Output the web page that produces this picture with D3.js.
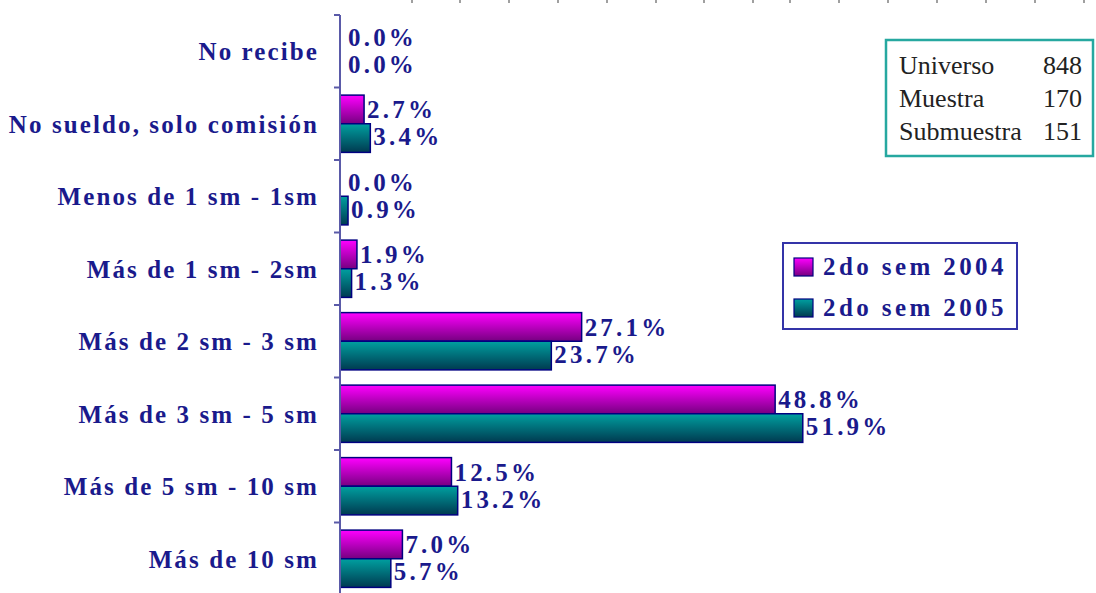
<!DOCTYPE html>
<html>
<head>
<meta charset="utf-8">
<script src="https://cdn.jsdelivr.net/npm/d3@7"></script>
<style>
  html, body { margin: 0; padding: 0; background: #fff; }
  svg { display: block; font-family: "Liberation Serif", "Times New Roman", serif; }
  text { font-family: "Liberation Serif", "Times New Roman", serif; }
</style>
</head>
<body>
<svg id="chart" width="1096" height="593"></svg>
<script>
// Ingreso mensual, en salarios mínimos (sm)
const categories = [
  "No recibe",
  "No sueldo, solo comisión",
  "Menos de 1 sm - 1sm",
  "Más de 1 sm - 2sm",
  "Más de 2 sm - 3 sm",
  "Más de 3 sm - 5 sm",
  "Más de 5 sm - 10 sm",
  "Más de 10 sm"
];
const seriesNames = ["2do sem 2004", "2do sem 2005"];
const values2004 = [0.0, 2.7, 0.0, 1.9, 27.1, 48.8, 12.5, 7.0];
const values2005 = [0.0, 3.4, 0.9, 1.3, 23.7, 51.9, 13.2, 5.7];
const infoLabels = ["Universo", "Muestra", "Submuestra"];
const infoValues = [848, 170, 151];
// faint ruler marks along the top edge of the page
const rulerMarks = [412, 460, 509, 558, 607, 656, 704, 753, 790, 839, 888, 937, 986, 1035, 1084];

const svg = d3.select("#chart");
const navy = "#1a1a8c";

const defs = svg.append("defs");
function grad(id, top, bottom) {
  const g = defs.append("linearGradient").attr("id", id)
    .attr("x1", 0).attr("y1", 0).attr("x2", 0).attr("y2", 1);
  g.append("stop").attr("offset", "0%").attr("stop-color", top);
  g.append("stop").attr("offset", "100%").attr("stop-color", bottom);
}
grad("g2004", "#ff00ff", "#760080");
grad("g2005", "#00a0a0", "#003a50");
const fills = ["url(#g2004)", "url(#g2005)"];

const rows = categories.map((c, i) => ({ cat: c, vals: [values2004[i], values2005[i]] }));

const x = d3.scaleLinear().domain([0, 60]).range([340, 875]);
const y = d3.scaleBand().domain(categories).range([15, 595]).paddingInner(0.21).paddingOuter(0.105);
const ySub = d3.scaleBand().domain([0, 1]).range([0, y.bandwidth()]);
const step = y.step();

// ruler marks
svg.append("g").selectAll("rect").data(rulerMarks).join("rect")
  .attr("x", d => d - 1).attr("y", 0).attr("width", 2).attr("height", 3)
  .attr("fill", "#a0a0a0");

// bars
const groups = svg.append("g").selectAll("g").data(rows).join("g")
  .attr("transform", d => `translate(0,${y(d.cat)})`);

groups.selectAll("rect").data(d => d.vals.map((v, k) => ({ v, k }))).join("rect")
  .filter(d => d.v > 0)
  .attr("x", x(0))
  .attr("y", d => ySub(d.k))
  .attr("width", d => x(d.v) - x(0))
  .attr("height", ySub.bandwidth())
  .attr("fill", d => fills[d.k])
  .attr("stroke", "#000080")
  .attr("stroke-width", 1.5);

groups.selectAll("text").data(d => d.vals.map((v, k) => ({ v, k }))).join("text")
  .attr("x", d => x(d.v) + (d.v > 0 ? 3 : 8))
  .attr("y", d => ySub(d.k) + ySub.bandwidth() / 2 + (d.k === 0 ? 9 : 7))
  .attr("font-weight", "bold")
  .attr("font-size", 25)
  .attr("letter-spacing", 3.2)
  .attr("fill", navy)
  .text(d => d.v.toFixed(1) + "%");

// category axis
const axis = svg.append("g");
axis.append("line")
  .attr("x1", x(0)).attr("x2", x(0)).attr("y1", 15).attr("y2", 593)
  .attr("stroke", "#5a5aa8").attr("stroke-width", 2);
const tickYs = d3.range(categories.length + 1).map(i => y.range()[0] + i * step);
axis.selectAll("line.tick").data(tickYs).join("line").attr("class", "tick")
  .attr("x1", x(0) - 6).attr("x2", x(0))
  .attr("y1", d => d).attr("y2", d => d)
  .attr("stroke", "#5a5aa8").attr("stroke-width", 2);

axis.selectAll("text").data(categories).join("text")
  .attr("x", 319)
  .attr("y", d => y(d) + y.bandwidth() / 2 + 9)
  .attr("text-anchor", "end")
  .attr("font-weight", "bold")
  .attr("font-size", 25)
  .attr("letter-spacing", 2.1)
  .attr("fill", navy)
  .text(d => d);

// legend
const leg = svg.append("g");
leg.append("rect").attr("x", 783).attr("y", 243).attr("width", 234).attr("height", 86)
  .attr("fill", "#fff").attr("stroke", "#3434a8").attr("stroke-width", 2);
seriesNames.forEach((name, k) => {
  const yy = 258 + k * 41;
  leg.append("rect").attr("x", 794).attr("y", yy).attr("width", 19).attr("height", 18)
    .attr("fill", fills[k]).attr("stroke", "#000080").attr("stroke-width", 1.2);
  leg.append("text").attr("x", 823).attr("y", yy + 17)
    .attr("font-weight", "bold")
    .attr("font-size", 25).attr("letter-spacing", 3.4)
    .attr("fill", navy).text(name);
});

// sample size box
const info = svg.append("g");
info.append("rect").attr("x", 886).attr("y", 40).attr("width", 207).attr("height", 116)
  .attr("fill", "#fff").attr("stroke", "#26a8a0").attr("stroke-width", 2.5);
infoLabels.forEach((lab, i) => {
  const yy = 74 + i * 33;
  info.append("text").attr("x", 899).attr("y", yy)
    .attr("font-size", 26).attr("fill", "#222")
    .text(lab);
  info.append("text").attr("x", 1082).attr("y", yy).attr("text-anchor", "end")
    .attr("font-size", 26).attr("fill", "#222")
    .text(infoValues[i]);
});
</script>
</body>
</html>
